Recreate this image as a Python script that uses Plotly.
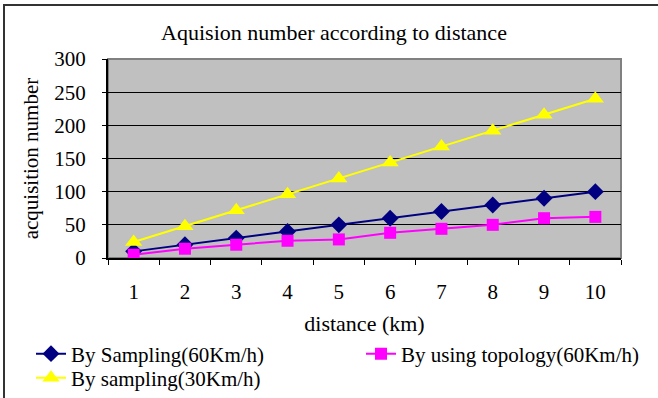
import plotly.graph_objects as go

distance = ["1", "2", "3", "4", "5", "6", "7", "8", "9", "10"]
sampling_60 = [10, 20, 30, 40, 50, 60, 70, 80, 90, 100]
topology_60 = [5, 14, 20, 26, 28, 38, 44, 50, 60, 62]
sampling_30 = [24, 48, 72, 96, 120, 144, 168, 192, 216, 240]

W, H = 658, 398
L, R, T, B = 108, 37, 59, 140
pw, ph = W - L - R, H - T - B

SERIF = "Liberation Serif, Times New Roman, serif"
FS = 21

def px_x(p):
    return (p - L) / pw

def px_y(p):
    return (H - B - p) / ph

fig = go.Figure()
fig.add_trace(go.Scatter(x=distance, y=sampling_60, mode="lines+markers",
                         name="By Sampling(60Km/h)", legend="legend",
                         line=dict(color="#000080", width=2),
                         marker=dict(symbol="diamond", size=13, color="#000080")))
fig.add_trace(go.Scatter(x=distance, y=topology_60, mode="lines+markers",
                         name="By using topology(60Km/h)", legend="legend2",
                         line=dict(color="#FF00FF", width=2),
                         marker=dict(symbol="square", size=12, color="#FF00FF")))
fig.add_trace(go.Scatter(x=distance, y=sampling_30, mode="lines+markers",
                         name="By sampling(30Km/h)", legend="legend3",
                         line=dict(color="#FFFF00", width=2),
                         marker=dict(symbol="triangle-up", size=15, color="#FFFF00")))

shapes = [
    dict(type="line", xref="paper", yref="paper", x0=px_x(3), x1=px_x(700),
         y0=px_y(5), y1=px_y(5), line=dict(color="#333333", width=2)),
    dict(type="line", xref="paper", yref="paper", x0=px_x(4), x1=px_x(4),
         y0=px_y(5), y1=px_y(420), line=dict(color="#333333", width=2)),
    dict(type="rect", xref="paper", yref="paper", x0=0, x1=1, y0=0, y1=1,
         line=dict(color="#808080", width=2), layer="below"),
]

def leg(xp, yp):
    return dict(orientation="v", x=px_x(xp), xanchor="left",
                y=px_y(yp), yanchor="middle",
                font=dict(family=SERIF, size=FS),
                bgcolor="rgba(0,0,0,0)", borderwidth=0, itemwidth=30)

fig.update_layout(
    width=W, height=H,
    margin=dict(l=L, r=R, t=T, b=B, autoexpand=False),
    paper_bgcolor="white",
    plot_bgcolor="#C0C0C0",
    font=dict(family=SERIF, size=FS, color="black"),
    title=dict(text="Aquision number according to distance",
               x=334 / W, xanchor="center", y=1 - 32 / H, yanchor="middle",
               font=dict(family=SERIF, size=22)),
    xaxis=dict(type="category", range=[-0.5, 9.5], tickson="boundaries",
               ticks="outside", ticklen=5, tickcolor="black", tickwidth=1,
               showgrid=False, showline=True, linecolor="black", linewidth=2,
               ticklabelstandoff=14,
               title=dict(text="distance (km)", standoff=12,
                          font=dict(family=SERIF, size=22)),
               tickfont=dict(family=SERIF, size=FS)),
    yaxis=dict(range=[0, 300], dtick=50, tick0=0,
               ticks="outside", ticklen=4, tickcolor="black",
               showgrid=True, gridcolor="black", gridwidth=1,
               showline=True, linecolor="black", linewidth=2,
               zeroline=False, ticklabelstandoff=12,
               title=dict(text="acquisition number", standoff=10,
                          font=dict(family=SERIF, size=FS)),
               tickfont=dict(family=SERIF, size=FS)),
    legend=leg(31, 354),
    legend2=leg(361, 354),
    legend3=leg(31, 378),
    shapes=shapes,
    showlegend=True,
)

fig.write_html("out.html")
